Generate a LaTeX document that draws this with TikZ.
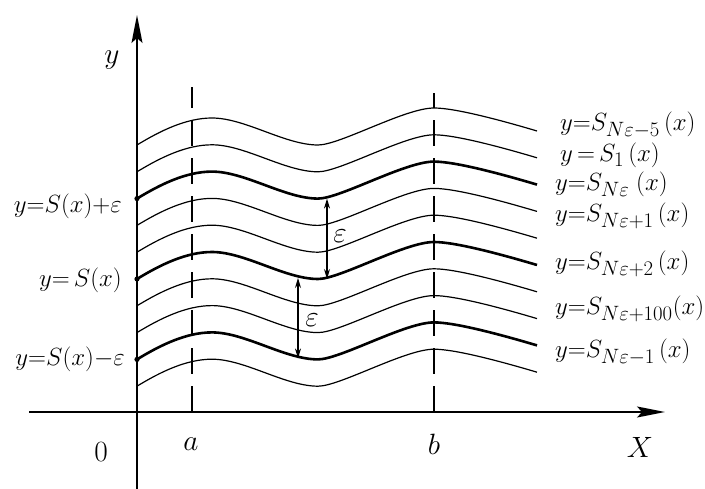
\documentclass[tikz,border=0pt]{standalone}
\usepackage{graphicx}
\usetikzlibrary{arrows.meta}
\newcommand\enl[1]{\scalebox{1.18}{#1}}
\begin{document}
\begin{tikzpicture}[x=1pt,y=-1pt,
  thincurve/.style={line width=1.2pt},
  thickcurve/.style={line width=2.6pt},
  axisline/.style={line width=1.4pt,-{Stealth[length=28pt,width=11pt,inset=5pt]}},
  guide/.style={line width=1.1pt,dash pattern=on 26pt off 12pt},
  epsarrow/.style={line width=1.1pt,{Stealth[length=10pt,width=6pt]}-{Stealth[length=10pt,width=6pt]}},
  lbl/.style={font=\fontsize{24.88}{29}\selectfont,inner sep=0pt},
  axlbl/.style={font=\fontsize{24.88}{30}\selectfont,inner sep=0pt}
]
\useasboundingbox (0,0) rectangle (705,489);

% axes
\coordinate (xs) at (29,412);
\coordinate (xe) at (665,412);
\coordinate (ys) at (137,489);
\coordinate (ye) at (137,15);
\draw[axisline] (xs) -- (xe);
\draw[axisline] (ys) -- (ye);

% dashed guides
\coordinate (a0) at (192,412);
\coordinate (a1) at (192,87);
\coordinate (b0) at (434,412);
\coordinate (b1) at (434,93);
\draw[guide] (a0) -- (a1);
\draw[guide] (b0) -- (b1);

% curves
\foreach \i/\st in {0/thincurve,1/thincurve,2/thickcurve,3/thincurve,4/thincurve,
                     5/thickcurve,6/thincurve,7/thincurve,8/thickcurve,9/thincurve}{
  \pgfmathsetmacro\yo{145+26.8*\i}
  \coordinate (s\i) at (137,\yo);
  \draw[\st] (s\i) .. controls (160,\yo-14) and (186,\yo-27) .. (212,\yo-27)
     .. controls (245,\yo-27) and (285,\yo) .. (318,\yo)
     .. controls (340,\yo) and (405,\yo-37) .. (434,\yo-37)
     .. controls (455,\yo-37) and (500,\yo-25) .. (537,\yo-14);
}
\fill (s2) circle (2.6pt);
\fill (s5) circle (2.6pt);
\fill (s8) circle (2.6pt);

% epsilon arrows
\coordinate (u1) at (327,198.6);
\coordinate (u2) at (327,279);
\coordinate (l1) at (298,278);
\coordinate (l2) at (298,358.4);
\draw[epsarrow] (u1) -- (u2);
\draw[epsarrow] (l1) -- (l2);
\node[axlbl] (eps1) at (340,236) {\enl{$\varepsilon$}};
\node[axlbl] (eps2) at (312,320) {\enl{$\varepsilon$}};

% left labels
\node[lbl,anchor=base east] (L1) at (122,213) {$y{=}S(x){+}\varepsilon$};
\node[lbl,anchor=base east] (L2) at (122,287) {$y{=}\,S(x)$};
\node[lbl,anchor=base east] (L3) at (125,366) {$y{=}S(x){-}\varepsilon$};

% right labels
\node[lbl,anchor=base west] (R1) at (560,131) {$y{=}S_{N\varepsilon-5}\,(x)$};
\node[lbl,anchor=base west] (R2) at (560,162) {$y\,{=}\,S_1\,(x)$};
\node[lbl,anchor=base west] (R3) at (555,191) {$y{=}S_{N\varepsilon}\;(x)$};
\node[lbl,anchor=base west] (R4) at (555,222) {$y{=}S_{N\varepsilon+1}\,(x)$};
\node[lbl,anchor=base west] (R5) at (555,270) {$y{=}S_{N\varepsilon+2}\,(x)$};
\node[lbl,anchor=base west] (R6) at (555,315) {$y{=}S_{N\varepsilon+100}(x)$};
\node[lbl,anchor=base west] (R7) at (555,358) {$y{=}S_{N\varepsilon-1}\,(x)$};

% axis labels
\node[axlbl] (O) at (101,452) {\enl{$0$}};
\node[axlbl] (A) at (191,444) {\enl{$a$}};
\node[axlbl] (B) at (434,444) {\enl{$b$}};
\node[axlbl] (X) at (640,447) {\enl{$X$}};
\node[axlbl] (Y) at (112,60) {\enl{$y$}};
\end{tikzpicture}
\end{document}
